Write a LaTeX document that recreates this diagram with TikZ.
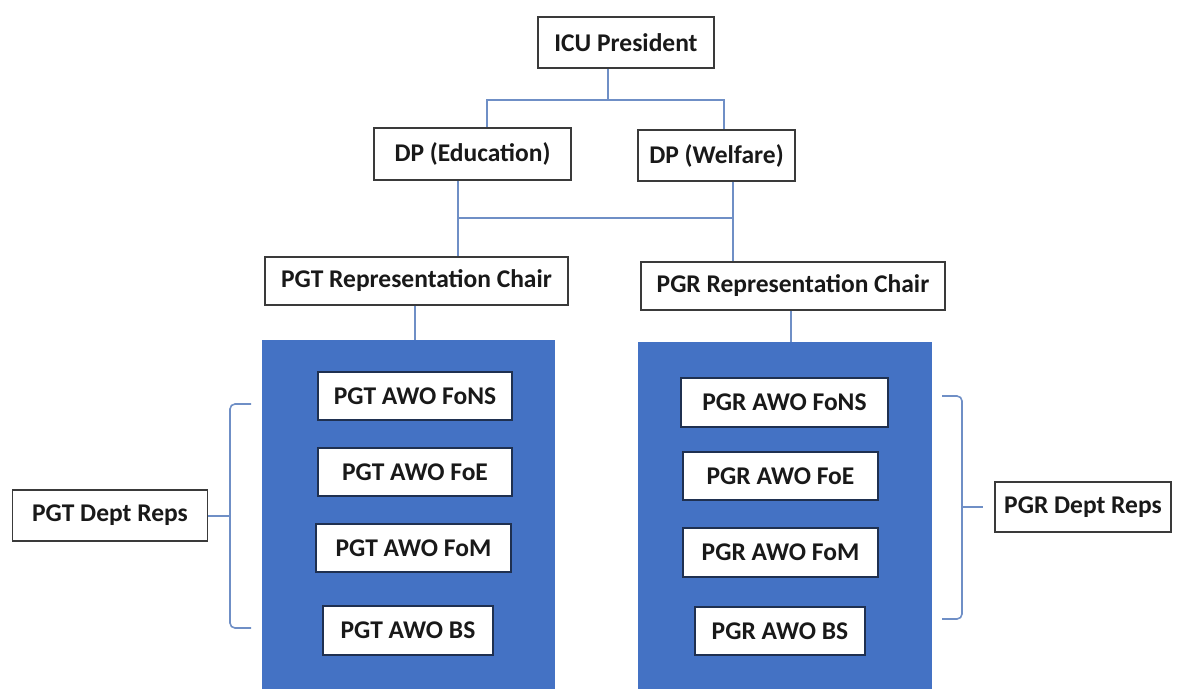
\documentclass[tikz,border=0pt]{standalone}
\usepackage{fontspec}
\setmainfont{Carlito}
\definecolor{linkblue}{HTML}{6F8FC6}
\definecolor{panelblue}{HTML}{4472C4}
\definecolor{boxline}{HTML}{3A3A3A}
\definecolor{innerline}{HTML}{1F3050}
\begin{document}
\begin{tikzpicture}[x=1pt,y=-1pt,
  box/.style={draw=boxline, line width=1.6pt, fill=white, inner sep=0pt,
    font=\fontsize{25.5}{30}\selectfont\bfseries, text=black!90},
  innerbox/.style={box, draw=innerline},
  panel/.style={fill=panelblue, draw=none},
  link/.style={draw=linkblue, line width=1.6pt},
  brace/.style={draw=linkblue, line width=1.6pt, rounded corners=5pt}]
\useasboundingbox (0,0) rectangle (1178,689);
% top levels
\node[box, minimum width=176pt, minimum height=51pt] (icu) at (626,42.5) {ICU President};
\node[box, minimum width=197pt, minimum height=52pt] (dpe) at (472.5,154) {DP (Education)};
\node[box, minimum width=157pt, minimum height=51pt] (dpw) at (716.5,155.5) {DP (Welfare)};
\node[box, minimum width=303pt, minimum height=48pt] (pgt) at (416.5,281) {PGT Representation Chair};
\node[box, minimum width=304pt, minimum height=48pt] (pgr) at (793,286) {PGR Representation Chair};
% panels
\node[panel, minimum width=293pt, minimum height=349pt, inner sep=0pt] (lpanel) at (408.5,514.5) {};
\node[panel, minimum width=294pt, minimum height=347pt, inner sep=0pt] (rpanel) at (785,515.5) {};
% inner boxes
\node[innerbox, minimum width=194pt, minimum height=48pt] (t1) at (415,396) {PGT AWO FoNS};
\node[innerbox, minimum width=194pt, minimum height=48pt] (t2) at (415,472) {PGT AWO FoE};
\node[innerbox, minimum width=195pt, minimum height=48pt] (t3) at (413.5,548) {PGT AWO FoM};
\node[innerbox, minimum width=170pt, minimum height=49pt] (t4) at (408,630.5) {PGT AWO BS};
\node[innerbox, minimum width=207pt, minimum height=49pt] (r1) at (784.5,402.5) {PGR AWO FoNS};
\node[innerbox, minimum width=195pt, minimum height=48pt] (r2) at (780.5,476) {PGR AWO FoE};
\node[innerbox, minimum width=195pt, minimum height=49pt] (r3) at (780.5,552.5) {PGR AWO FoM};
\node[innerbox, minimum width=170pt, minimum height=48pt] (r4) at (780,631) {PGR AWO BS};
% dept reps
\node[box, minimum width=195pt, minimum height=51pt] (tdr) at (110,515.5) {PGT Dept Reps};
\node[box, minimum width=176pt, minimum height=50pt] (rdr) at (1083,507) {PGR Dept Reps};
% connectors
\coordinate (j1) at (608,100);
\coordinate (jl) at (487,100);
\coordinate (jr) at (724,100);
\draw[link] (icu.south -| j1) -- (j1);
\draw[link] (dpe.north -| jl) -- (jl) -- (jr) -- (dpw.north -| jr);
\coordinate (k1) at (458,218);
\coordinate (k2) at (733,218);
\draw[link] (dpe.south -| k1) -- (pgt.north -| k1);
\draw[link] (dpw.south -| k2) -- (pgr.north -| k2);
\draw[link] (k1) -- (k2);
\coordinate (m1) at (415,0);
\coordinate (m2) at (791,0);
\draw[link] (pgt.south -| m1) -- (lpanel.north -| m1);
\draw[link] (pgr.south -| m2) -- (rpanel.north -| m2);
% braces
\coordinate (lbt) at (251,404);
\coordinate (lbb) at (251,628);
\coordinate (lbm) at (230,516);
\draw[brace] (lbt) -- (230,404) -- (lbm) -- (230,628) -- (lbb);
\draw[link] (lbm) -- (tdr.east |- lbm);
\coordinate (rbt) at (942,396);
\coordinate (rbb) at (942,619);
\coordinate (rbm) at (962,507);
\draw[brace] (rbt) -- (962,396) -- (rbm) -- (962,619) -- (rbb);
\draw[link] (rbm) -- (983,507);
\end{tikzpicture}
\end{document}
